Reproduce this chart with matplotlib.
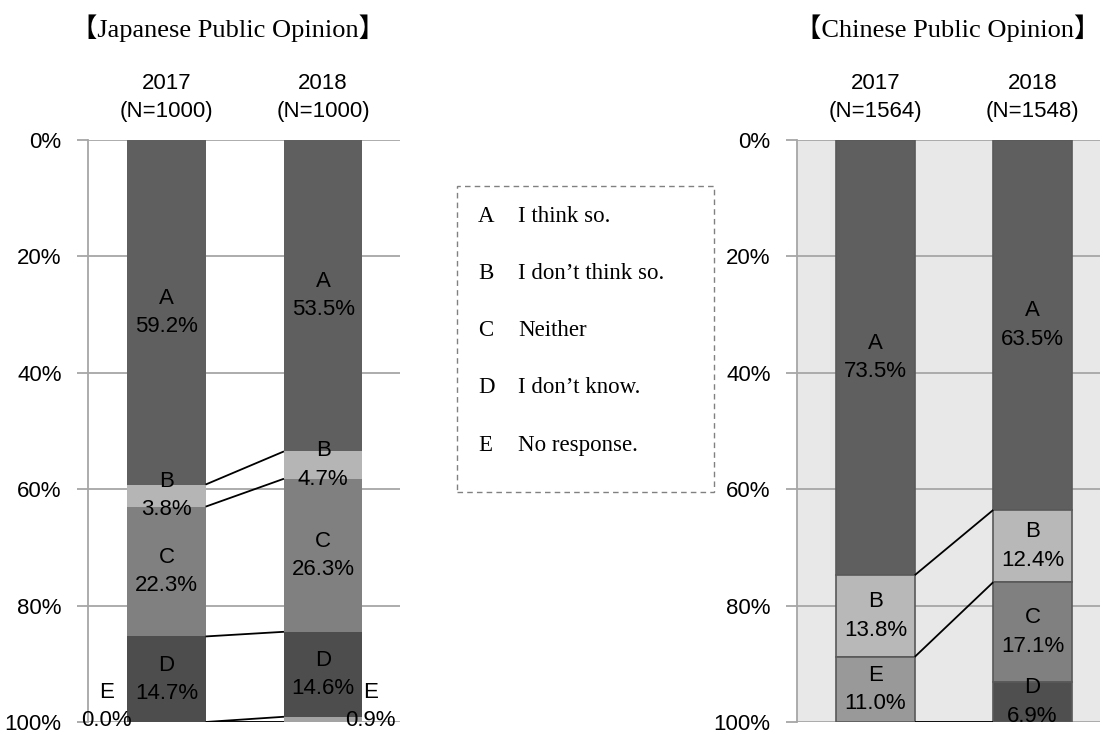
import numpy as np
import matplotlib
matplotlib.use('Agg')
import matplotlib.pyplot as plt
from matplotlib.patches import Rectangle

# ---- data ----
categories = ['A', 'B', 'C', 'D', 'E']
legend_text = ['I think so.', 'I don\u2019t think so.', 'Neither', 'I don\u2019t know.', 'No response.']

jp_years = ['2017\n(N=1000)', '2018\n(N=1000)']
jp_2017 = [59.2, 3.8, 22.3, 14.7, 0.0]
jp_2018 = [53.5, 4.7, 26.3, 14.6, 0.9]

cn_years = ['2017\n(N=1564)', '2018\n(N=1548)']
cn_2017 = [73.5, 13.8, 0.0, 0.0, 11.0]
cn_2018 = [63.5, 12.4, 17.1, 6.9, 0.0]

colors_jp = {'A': '#5f5f5f', 'B': '#b5b5b5', 'C': '#808080', 'D': '#4d4d4d', 'E': '#a3a3a3'}
colors_cn = {'A': '#5f5f5f', 'B': '#b8b8b8', 'C': '#808080', 'D': '#4f4f4f', 'E': '#999999'}

plt.rcParams['font.family'] = ['Liberation Sans', 'DejaVu Sans']
SERIF = ['Liberation Serif', 'Noto Sans CJK JP']
FS = 16

fig = plt.figure(figsize=(11.03, 7.35), dpi=100)
ax_jp = fig.add_axes([88 / 1103, 1 - 722 / 735, 312 / 1103, 582 / 735])
ax_cn = fig.add_axes([797 / 1103, 1 - 722 / 735, 303 / 1103, 582 / 735])

width = 0.5


def draw_panel(ax, years, series, colors, edge, bg, line_cats, xmax):
    ax.set_facecolor(bg)
    ax.set_xlim(-0.5, xmax)
    ax.set_ylim(100, 0)
    ax.set_yticks(np.arange(0, 101, 20))
    ax.set_yticklabels([f'{v}%' for v in range(0, 101, 20)], fontsize=FS)
    ax.yaxis.grid(True, color='#a6a6a6', linewidth=1.3)
    ax.set_axisbelow(True)
    ax.tick_params(axis='y', length=8, width=1.3, color='#a6a6a6', pad=11)
    ax.xaxis.tick_top()
    ax.set_xticks([0, 1])
    ax.set_xticklabels(years, fontsize=FS, linespacing=1.45)
    ax.tick_params(axis='x', length=0, pad=13)
    for s in ['top', 'right', 'bottom']:
        ax.spines[s].set_visible(False)
    ax.spines['left'].set_color('#a6a6a6')
    ax.spines['left'].set_linewidth(1.3)

    bounds = []
    for i, vals in enumerate(series):
        vals = np.array(vals, dtype=float)
        pct = vals / vals.sum() * 100  # 100% stacked
        bottoms = np.concatenate([[0], np.cumsum(pct)[:-1]])
        bounds.append(np.cumsum(pct))
        for c, p, b in zip(categories, pct, bottoms):
            if p <= 0:
                continue
            ax.bar(i, p, width, bottom=b, color=colors[c],
                   edgecolor=edge if edge else colors[c],
                   linewidth=1.2 if edge else 0, zorder=3)
    # series lines
    for k, c in enumerate(categories):
        if c in line_cats:
            ax.plot([width / 2, 1 - width / 2], [bounds[0][k], bounds[1][k]],
                    color='black', linewidth=1.3, zorder=4, solid_capstyle='butt')
    return bounds


jp_bounds = draw_panel(ax_jp, jp_years, [jp_2017, jp_2018], colors_jp, None, 'white',
                       categories, 1.49)
cn_bounds = draw_panel(ax_cn, cn_years, [cn_2017, cn_2018], colors_cn, '#595959', '#e8e8e8',
                       ['A', 'B', 'E'], 1.43)


def seg_mid(bounds, i, k):
    lo = bounds[i][k - 1] if k > 0 else 0
    return (lo + bounds[i][k]) / 2


def label(ax, x, y, cat, val):
    ax.text(x, y, f'{cat}\n{val:.1f}%', ha='center', va='center', fontsize=FS,
            linespacing=1.45, zorder=5)


# Japanese labels
for i, vals in enumerate([jp_2017, jp_2018]):
    for k, c in enumerate(categories):
        if c == 'E':
            continue
        label(ax_jp, i, seg_mid(jp_bounds, i, k), c, vals[k])
label(ax_jp, -0.38, 97.4, 'E', jp_2017[4])
label(ax_jp, 1.3, 97.4, 'E', jp_2018[4])

# Chinese labels
for i, vals in enumerate([cn_2017, cn_2018]):
    for k, c in enumerate(categories):
        if vals[k] <= 0:
            continue
        label(ax_cn, i, seg_mid(cn_bounds, i, k), c, vals[k])

# titles
fig.text(228 / 1103, 1 - 28 / 735, '\u3010Japanese Public Opinion\u3011', ha='center', va='center',
         fontsize=19, family=SERIF)
fig.text(948 / 1103, 1 - 28 / 735, '\u3010Chinese Public Opinion\u3011', ha='center', va='center',
         fontsize=19, family=SERIF)

# legend box
box = Rectangle((457 / 1103, 1 - 492 / 735), 257 / 1103, 306 / 735, transform=fig.transFigure,
                fill=False, edgecolor='#808080', linestyle=(0, (4, 3)), linewidth=1)
fig.add_artist(box)
for j, (c, t) in enumerate(zip(categories, legend_text)):
    y = 1 - (216 + j * 57.3) / 735
    fig.text(478 / 1103, y, c, ha='left', va='center', fontsize=16.5, family=SERIF)
    fig.text(518 / 1103, y, t, ha='left', va='center', fontsize=16.5, family=SERIF)

plt.savefig('out.png', dpi=100)
